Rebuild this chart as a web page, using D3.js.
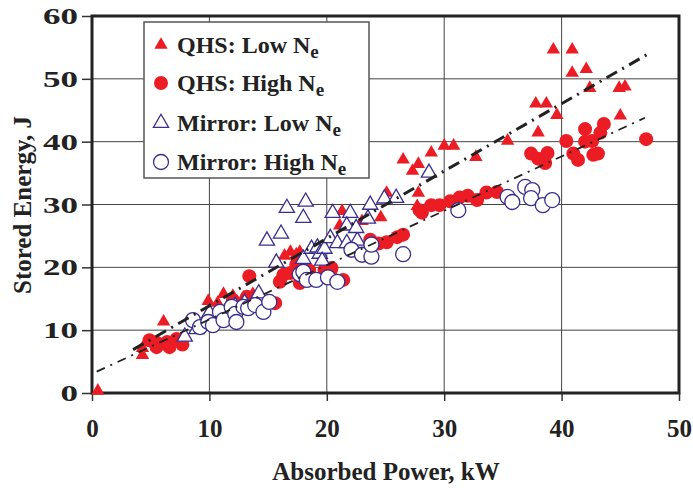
<!DOCTYPE html>
<html>
<head>
<meta charset="utf-8">
<title>Stored energy vs absorbed power</title>
<script src="https://d3js.org/d3.v7.min.js"></script>
<style>
  body { margin: 0; background: #fff; }
  text { font-family: "Liberation Serif", "DejaVu Serif", serif; font-weight: bold; fill: #222; }
  .grid line { stroke: #444; stroke-width: 1px; }
</style>
</head>
<body>
<div id="chart"></div>
<script>
// axis ticks
var xTicks = [0, 10, 20, 30, 40, 50];
var yTicks = [0, 10, 20, 30, 40, 50, 60];

// QHS, low density (filled triangles)
var qhsLowX = [0.5, 4.3, 4.3, 6.1, 9.9, 10.7, 11.2, 12.0, 12.9, 13.7, 15.7, 16.4, 16.9, 17.7, 17.4, 20.5, 21.3, 21.1, 23.0, 24.6, 25.1, 26.5, 27.3, 27.8, 28.9, 27.8, 27.7, 30.0, 30.8, 32.7, 35.4, 37.8, 38.7, 39.6, 38.0, 39.3, 40.9, 40.9, 42.1, 42.4, 44.9, 45.4, 45.0];
var qhsLowY = [0.5, 6.2, 7.3, 11.5, 14.8, 14.5, 15.9, 15.6, 15.3, 15.9, 20.7, 22.0, 22.6, 22.6, 22.2, 28.8, 29.1, 26.8, 27.5, 28.1, 32.0, 37.3, 35.5, 36.6, 38.4, 32.0, 29.9, 39.5, 39.5, 37.7, 40.3, 46.2, 46.2, 44.4, 41.6, 54.8, 54.8, 51.1, 51.7, 48.7, 48.7, 48.9, 44.3];

// QHS, high density (filled circles)
var qhsHighX = [4.9, 5.5, 5.5, 6.4, 6.6, 7.2, 7.7, 12.0, 13.7, 13.2, 13.4, 15.6, 16.0, 16.3, 16.9, 17.4, 17.7, 18.5, 19.8, 20.4, 20.3, 21.4, 23.7, 24.4, 25.1, 26.0, 26.5, 27.9, 28.1, 28.9, 29.6, 30.5, 31.3, 32.0, 32.8, 33.6, 34.5, 37.4, 38.0, 38.8, 38.6, 40.4, 41.0, 41.4, 42.0, 42.0, 42.6, 42.7, 43.1, 43.3, 43.6, 47.2];
var qhsHighY = [8.4, 8.0, 7.3, 8.1, 7.3, 8.6, 7.7, 14.8, 15.2, 15.3, 18.6, 14.3, 17.7, 18.8, 19.1, 20.4, 17.5, 19.5, 19.6, 19.9, 19.3, 18.0, 24.4, 23.8, 24.0, 24.8, 25.2, 29.1, 28.7, 29.9, 29.9, 30.5, 31.1, 31.4, 30.7, 31.9, 32.0, 38.1, 37.3, 38.2, 36.6, 40.1, 38.1, 37.1, 42.0, 40.0, 40.1, 37.9, 38.1, 41.4, 42.8, 40.4];

// Mirror, low density (open triangles)
var mirLowX = [7.9, 8.9, 9.5, 10.0, 11.5, 12.2, 13.0, 14.2, 15.7, 14.9, 16.1, 16.6, 18.2, 18.0, 18.0, 18.7, 19.2, 19.4, 19.8, 19.6, 20.3, 20.9, 21.7, 22.6, 20.5, 22.0, 21.7, 22.5, 23.5, 23.7, 24.9, 25.9, 28.7];
var mirLowY = [9.1, 10.3, 11.1, 12.9, 13.5, 14.0, 14.5, 16.0, 20.9, 24.4, 25.5, 29.6, 30.6, 28.0, 21.5, 23.1, 23.3, 22.3, 23.1, 21.2, 24.8, 24.0, 24.0, 24.4, 28.8, 28.8, 26.8, 26.4, 27.9, 30.1, 31.1, 31.2, 35.2];

// Mirror, high density (open circles)
var mirHighX = [8.6, 9.2, 9.9, 10.3, 10.9, 11.2, 11.9, 12.2, 12.3, 12.9, 13.3, 13.9, 14.6, 15.1, 17.7, 18.0, 18.3, 19.1, 20.1, 20.9, 22.1, 23.0, 23.8, 23.8, 26.5, 31.2, 35.4, 35.8, 36.9, 37.5, 37.4, 38.4, 39.2];
var mirHighY = [11.6, 10.5, 11.3, 10.8, 12.9, 11.6, 13.7, 12.6, 11.3, 13.7, 13.5, 14.0, 12.9, 14.5, 18.9, 19.3, 18.0, 18.0, 18.4, 17.7, 22.8, 22.0, 21.7, 23.6, 22.1, 29.1, 31.2, 30.4, 32.8, 32.3, 31.0, 29.9, 30.7];

// fit lines, [x, y] end points
var fitLow = [[3.5, 6.9], [47.5, 54.1]];
var fitHigh = [[0.4, 3.4], [47.1, 43.8]];

var legendNames = ["QHS: Low N", "QHS: High N", "Mirror: Low N", "Mirror: High N"];

var width = 693, height = 488;
var margin = {left: 92, top: 16, right: 14, bottom: 95};
var red = "#ec1c24", blue = "#3a2e8e";

var svg = d3.select("#chart").append("svg")
    .attr("width", width).attr("height", height);

var x = d3.scaleLinear().domain([0, 50]).range([margin.left, width - margin.right]);
var y = d3.scaleLinear().domain([0, 60]).range([height - margin.bottom, margin.top]);

//grid
var grid = svg.append("g").attr("class", "grid");
grid.selectAll(".gx").data(xTicks.slice(1, -1)).enter().append("line")
    .attr("x1", x).attr("x2", x).attr("y1", y(0)).attr("y2", y(60));
grid.selectAll(".gy").data(yTicks.slice(1, -1)).enter().append("line")
    .attr("x1", x(0)).attr("x2", x(50)).attr("y1", y).attr("y2", y);

//axes
var xAxis = svg.append("g").attr("transform", "translate(0," + y(0) + ")")
    .call(d3.axisBottom(x).tickValues(xTicks).tickSize(8).tickPadding(18));
var yAxis = svg.append("g").attr("transform", "translate(" + x(0) + ",0)")
    .call(d3.axisLeft(y).tickValues(yTicks).tickSize(10).tickPadding(6));
[xAxis, yAxis].forEach(function(a) {
  a.select(".domain").remove();
  a.selectAll(".tick line").attr("stroke", "#333").attr("stroke-width", 1.5);
  a.selectAll(".tick text").style("font-size", "25px").attr("fill", "#222");
});
//y labels are drawn wider in the original
yAxis.selectAll(".tick text").attr("x", 0).attr("transform", "translate(-14,0)scale(1.4,0.95)");

//frame
svg.append("rect")
    .attr("x", x(0)).attr("y", y(60)).attr("width", x(50) - x(0)).attr("height", y(0) - y(60))
    .attr("fill", "none").attr("stroke", "#222").attr("stroke-width", 3);

var tri = d3.symbol().type(d3.symbolTriangle).size(78);
var triOpen = d3.symbol().type(d3.symbolTriangle).size(100);

function pairs(xs, ys) { return xs.map(function(v, i) { return [v, ys[i]]; }); }

svg.append("g").selectAll("path").data(pairs(qhsLowX, qhsLowY)).enter().append("path")
    .attr("d", tri).attr("fill", red)
    .attr("transform", function(d) { return "translate(" + x(d[0]) + "," + (y(d[1]) + 1) + ")"; });

svg.append("g").selectAll("circle").data(pairs(qhsHighX, qhsHighY)).enter().append("circle")
    .attr("cx", function(d) { return x(d[0]); }).attr("cy", function(d) { return y(d[1]); })
    .attr("r", 7).attr("fill", red);

svg.append("g").selectAll("path").data(pairs(mirLowX, mirLowY)).enter().append("path")
    .attr("d", triOpen).attr("fill", "#fff").attr("stroke", blue).attr("stroke-width", 1.3)
    .attr("transform", function(d) { return "translate(" + x(d[0]) + "," + (y(d[1]) + 1) + ")"; });

svg.append("g").selectAll("circle").data(pairs(mirHighX, mirHighY)).enter().append("circle")
    .attr("cx", function(d) { return x(d[0]); }).attr("cy", function(d) { return y(d[1]); })
    .attr("r", 7.5).attr("fill", "#fff").attr("stroke", blue).attr("stroke-width", 1.3);

//fit lines
var line = d3.line().x(function(d) { return x(d[0]); }).y(function(d) { return y(d[1]); });
svg.append("path").datum(fitLow).attr("d", line)
    .attr("fill", "none").attr("stroke", "#222").attr("stroke-width", 3)
    .attr("stroke-dasharray", "12,6,2,6");
svg.append("path").datum(fitHigh).attr("d", line)
    .attr("fill", "none").attr("stroke", "#222").attr("stroke-width", 1.8)
    .attr("stroke-dasharray", "9,6,2,6");

//legend
var lg = svg.append("g");
lg.append("rect").attr("x", 144).attr("y", 22).attr("width", 225).attr("height", 156)
    .attr("fill", "#fff").attr("stroke", "#555").attr("stroke-width", 1.5);
var rowY = [45, 83, 123, 162];
var item = lg.selectAll(".item").data(legendNames).enter().append("g")
    .attr("transform", function(d, i) { return "translate(161," + rowY[i] + ")"; });
item.each(function(d, i) {
  var g = d3.select(this);
  if (i === 0) g.append("path").attr("d", tri).attr("fill", red);
  if (i === 1) g.append("circle").attr("r", 7).attr("fill", red);
  if (i === 2) g.append("path").attr("d", triOpen).attr("fill", "#fff").attr("stroke", blue).attr("stroke-width", 1.3);
  if (i === 3) g.append("circle").attr("r", 7.5).attr("fill", "#fff").attr("stroke", blue).attr("stroke-width", 1.3);
  var t = g.append("text").attr("x", 16).attr("y", 8).style("font-size", "24px").text(d);
  t.append("tspan").attr("dy", 5).style("font-size", "19px").text("e");
});

//axis titles
svg.append("text").attr("x", 386).attr("y", 480).attr("text-anchor", "middle")
    .style("font-size", "25px").text("Absorbed Power, kW");
svg.append("text").attr("transform", "translate(31,205)rotate(-90)").attr("text-anchor", "middle")
    .style("font-size", "25px").text("Stored Energy, J");
</script>
</body>
</html>
